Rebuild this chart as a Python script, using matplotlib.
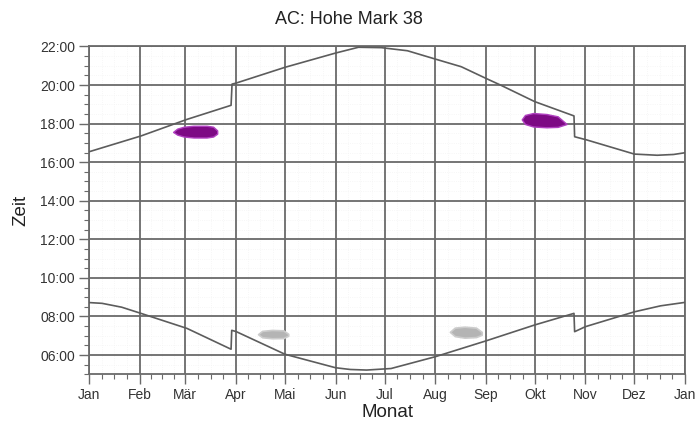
import numpy as np
import matplotlib
matplotlib.use("Agg")
import matplotlib.pyplot as plt
from matplotlib.ticker import FixedLocator, FuncFormatter

plt.rcParams["font.family"] = ["Liberation Sans", "DejaVu Sans"]

# month starts (day of year) and labels
month_days = [0, 31, 59, 90, 120, 151, 181, 212, 243, 273, 304, 334, 365]
month_labels = ["Jan", "Feb", "Mär", "Apr", "Mai", "Jun", "Jul",
                "Aug", "Sep", "Okt", "Nov", "Dez", "Jan"]

# sunset (hours)
sunset_day = [0, 31.8, 60, 87, 87.6, 90, 120, 151, 165, 179, 195, 212, 228,
              243, 252, 273, 297, 297.4, 305, 334, 348, 358, 365]
sunset_hour = [16.54, 17.36, 18.22, 18.95, 20.05, 20.1, 20.92, 21.66, 21.96,
               21.94, 21.78, 21.35, 20.95, 20.35, 20.0, 19.14, 18.4, 17.32,
               17.15, 16.42, 16.36, 16.40, 16.49]

# sunrise (hours)
sunrise_day = [0, 8, 20, 31.8, 60, 87, 87.4, 90, 120, 151, 160, 170, 185,
               212, 243, 273, 297, 297.4, 304, 334, 350, 365]
sunrise_hour = [8.72, 8.68, 8.48, 8.16, 7.38, 6.3, 7.28, 7.22, 6.04, 5.34,
                5.25, 5.22, 5.3, 5.91, 6.73, 7.56, 8.16, 7.21, 7.47, 8.24,
                8.55, 8.73]

# blobs: day, upper hour, lower hour
mar_day = [51.5, 54, 58, 64, 72, 76, 78.5]
mar_top = [17.57, 17.74, 17.84, 17.89, 17.89, 17.84, 17.65]
mar_bot = [17.57, 17.43, 17.33, 17.28, 17.28, 17.33, 17.48]

okt_day = [265, 267, 272, 280, 287, 292.5]
okt_top = [18.22, 18.45, 18.55, 18.5, 18.38, 17.98]
okt_bot = [18.22, 17.98, 17.85, 17.81, 17.83, 17.98]

apr_day = [103.5, 106, 112, 119, 122]
apr_top = [7.08, 7.25, 7.3, 7.28, 7.1]
apr_bot = [7.08, 6.92, 6.87, 6.88, 7.0]

aug_day = [221, 224, 230, 237, 240.5]
aug_top = [7.2, 7.42, 7.47, 7.42, 7.2]
aug_bot = [7.2, 6.98, 6.9, 6.93, 7.05]

grid_col = "#6a6a6a"
line_col = "#5c5c5c"
text_col = "#333333"

fig = plt.figure(figsize=(6.97, 4.25), dpi=100)
ax = fig.add_axes([0.1277, 0.1193, 0.9828 - 0.1277, 0.8906 - 0.1193])

# very faint minor grid
minor_x = []
for a, b in zip(month_days[:-1], month_days[1:]):
    minor_x += list(np.linspace(a, b, 5)[1:-1])
minor_y = np.arange(5, 22.01, 0.5)
for x in minor_x:
    ax.axvline(x, color="#f4f4f4", lw=0.6, ls=":", zorder=0)
for y in minor_y:
    ax.axhline(y, color="#f4f4f4", lw=0.6, ls=":", zorder=0)

ax.grid(True, which="major", color=grid_col, lw=1.3, zorder=1)

ax.plot(sunset_day, sunset_hour, color=line_col, lw=1.2, zorder=3)
ax.plot(sunrise_day, sunrise_hour, color=line_col, lw=1.2, zorder=3)

for d, t, b in [(mar_day, mar_top, mar_bot), (okt_day, okt_top, okt_bot)]:
    ax.fill_between(d, b, t, color="#7d0a84", ec="#b040c0", lw=1.0, zorder=4)
for d, t, b in [(apr_day, apr_top, apr_bot), (aug_day, aug_top, aug_bot)]:
    ax.fill_between(d, b, t, color="#b4b4b4", ec="#cccccc", lw=1.2, zorder=4)

ax.set_xlim(0, 365)
ax.set_ylim(5, 22)
ax.set_xticks(month_days)
ax.set_xticklabels(month_labels)
ax.xaxis.set_minor_locator(FixedLocator(minor_x))
ax.set_yticks(np.arange(6, 23, 2))
ax.yaxis.set_major_formatter(FuncFormatter(lambda v, p: f"{int(v):02d}:00"))
ax.yaxis.set_minor_locator(FixedLocator(minor_y))

ax.tick_params(which="major", length=7, width=1.0, color=grid_col,
               labelsize=10, labelcolor=text_col, pad=3)
ax.tick_params(which="minor", length=3.5, width=0.8, color=grid_col)
for s in ax.spines.values():
    s.set_color(grid_col)
    s.set_linewidth(1.3)

ax.set_xlabel("Monat", fontsize=13.5, color="#222222", labelpad=1)
ax.set_ylabel("Zeit", fontsize=13.5, color="#222222", labelpad=8)
fig.text(0.5, 0.953, "AC: Hohe Mark 38", ha="center", va="center",
         fontsize=13, color="#222222")

fig.savefig("out.png", dpi=100)
